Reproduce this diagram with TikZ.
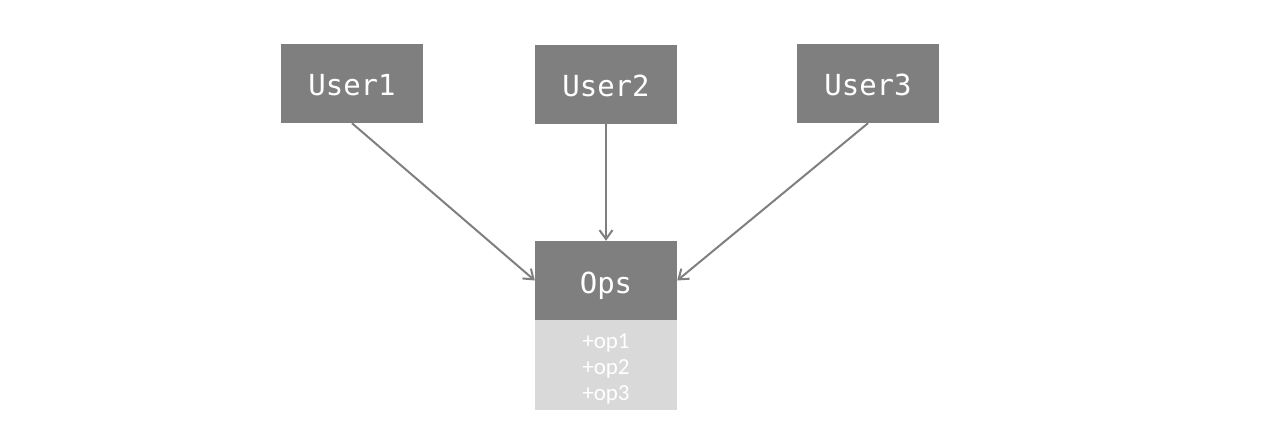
\documentclass[tikz,border=0pt]{standalone}
\usepackage{fontspec}
\usetikzlibrary{arrows.meta}
\newfontfamily\monofont{DejaVu Sans Mono}
\newfontfamily\listfont{Carlito}
\definecolor{boxgray}{HTML}{7F7F7F}
\definecolor{listgray}{HTML}{D9D9D9}
\begin{document}
\begin{tikzpicture}[x=1pt,y=-1pt,
        actor/.style={fill=boxgray,text=white,minimum width=142pt,minimum height=79pt,inner sep=0pt,text height=25pt,text depth=0pt,font=\monofont\fontsize{29}{35}\selectfont},
        oplist/.style={fill=listgray,text=white,minimum width=142pt,minimum height=90pt,inner sep=0pt,align=center,font=\listfont\fontsize{23}{26}\selectfont},
        link/.style={draw=boxgray,line width=2pt,-{Straight Barb[length=9pt,width=13pt]}}]
        \useasboundingbox (0,0) rectangle (1280,441);
        \node[actor] (U1) at (352,83.5) {User1};
        \node[actor] (U2) at (606,84.5) {User2};
        \node[actor] (U3) at (868,83.5) {User3};
        \node[actor] (O) at (606,280.5) {Ops};
        \node[oplist] (L) at (606,365) {\rule{0pt}{23pt}+op1\\+op2\\+op3};

        \path [link] (U1.south) -- (O.west);
        \path [link] (U2.south) -- (O.north);
        \path [link] (U3.south) -- (O.east);
    \end{tikzpicture}
\end{document}
